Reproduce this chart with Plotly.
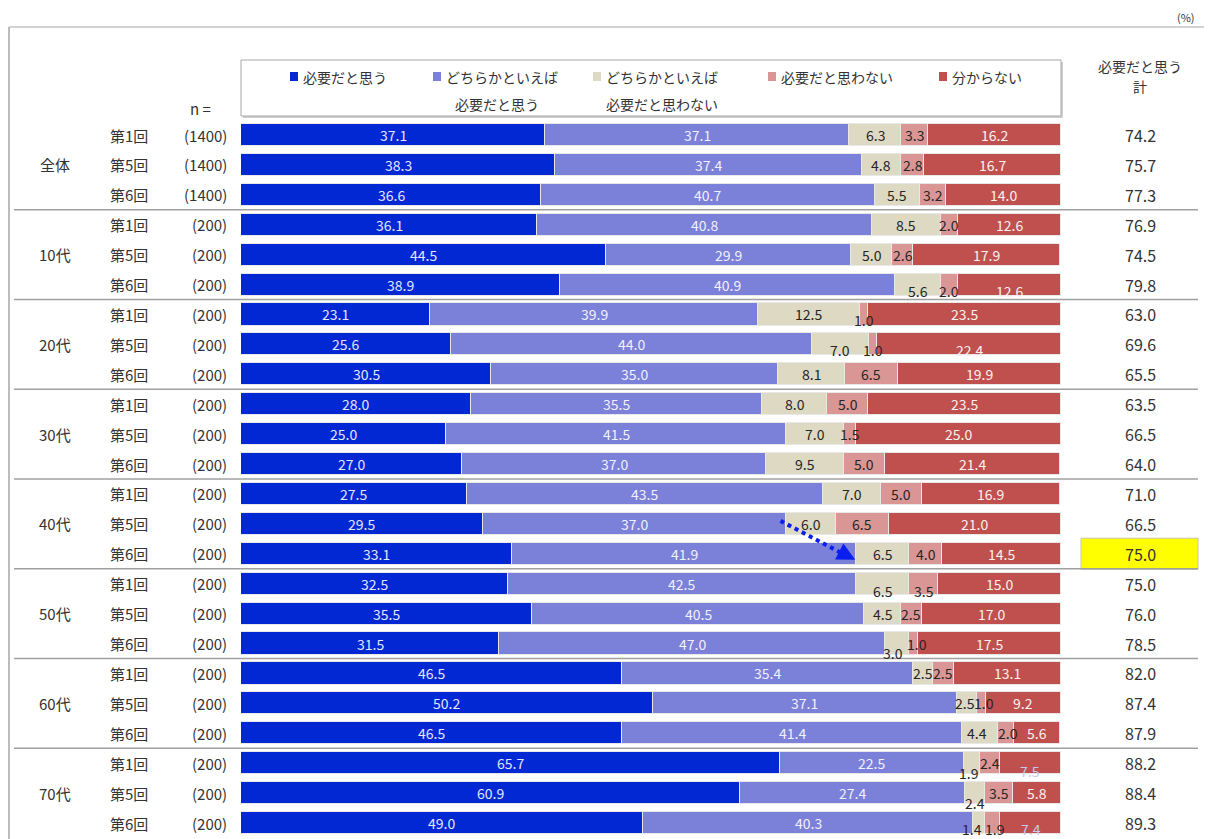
import plotly.graph_objects as go

groups = ["全体", "10代", "20代", "30代", "40代", "50代", "60代", "70代"]
rounds = ["第1回", "第5回", "第6回"]
n_values = ["(1400)", "(1400)", "(1400)"] + ["(200)"] * 21

series_names = ["必要だと思う", "どちらかといえば必要だと思う", "どちらかといえば必要だと思わない",
                "必要だと思わない", "分からない"]

need = [37.1, 38.3, 36.6, 36.1, 44.5, 38.9, 23.1, 25.6, 30.5, 28.0, 25.0, 27.0,
        27.5, 29.5, 33.1, 32.5, 35.5, 31.5, 46.5, 50.2, 46.5, 65.7, 60.9, 49.0]
rather_need = [37.1, 37.4, 40.7, 40.8, 29.9, 40.9, 39.9, 44.0, 35.0, 35.5, 41.5, 37.0,
               43.5, 37.0, 41.9, 42.5, 40.5, 47.0, 35.4, 37.1, 41.4, 22.5, 27.4, 40.3]
rather_not = [6.3, 4.8, 5.5, 8.5, 5.0, 5.6, 12.5, 7.0, 8.1, 8.0, 7.0, 9.5,
              7.0, 6.0, 6.5, 6.5, 4.5, 3.0, 2.5, 2.5, 4.4, 1.9, 2.4, 1.4]
not_need = [3.3, 2.8, 3.2, 2.0, 2.6, 2.0, 1.0, 1.0, 6.5, 5.0, 1.5, 5.0,
            5.0, 6.5, 4.0, 3.5, 2.5, 1.0, 2.5, 1.0, 2.0, 2.4, 3.5, 1.9]
unknown = [16.2, 16.7, 14.0, 12.6, 17.9, 12.6, 23.5, 22.4, 19.9, 23.5, 25.0, 21.4,
           16.9, 21.0, 14.5, 15.0, 17.0, 17.5, 13.1, 9.2, 5.6, 7.5, 5.8, 7.4]
total_need = [74.2, 75.7, 77.3, 76.9, 74.5, 79.8, 63.0, 69.6, 65.5, 63.5, 66.5, 64.0,
              71.0, 66.5, 75.0, 75.0, 76.0, 78.5, 82.0, 87.4, 87.9, 88.2, 88.4, 89.3]
highlight_row = 14

colors = ["#0228D4", "#7B80D8", "#DDD9C3", "#DA9694", "#C0504D"]
text_colors = ["#E4E6FF", "#F0F0FF", "#262626", "#262626", "#F8F0F0"]

# label nudges (row, series) -> (dx in %, dy in rows), mimicking the reference's placement
label_nudge = {
    (5, 2): (0, 0.2), (5, 3): (0, 0.2), (5, 4): (0, 0.2),
    (6, 3): (0, 0.2), (7, 2): (0, 0.2), (7, 3): (0, 0.2), (7, 4): (0, 0.2),
    (15, 2): (0, 0.25), (15, 3): (0, 0.25),
    (17, 2): (-0.5, 0.32), (17, 3): (0.4, 0),
    (19, 2): (-0.3, 0), (19, 3): (0.3, 0),
    (20, 2): (-0.4, 0), (20, 3): (0.2, 0),
    (21, 2): (-0.4, 0.33), (21, 3): (0, 0), (21, 4): (0, 0.27),
    (22, 2): (0, 0.33),
    (23, 2): (-0.9, 0.2), (23, 3): (0.3, 0.2), (23, 4): (0, 0.2),
}
light_override = {(21, 4): "#C8C8F0", (23, 4): "#C8C8F0"}

OFF = 8  # page body margin in the browser
W, H = 1212, 839
X0, X1 = 241, 1061
ROW0, STEP = 135, 29.913
FONT = "Noto Sans CJK JP"


def px(x):
    return (x - OFF) / W


def py(y):
    return 1 - (y - OFF) / H


nrows = len(need)
ys = list(range(nrows))
all_series = [need, rather_need, rather_not, not_need, unknown]

fig = go.Figure()
for name, vals, c in zip(series_names, all_series, colors):
    fig.add_trace(go.Bar(
        y=ys, x=vals, orientation="h", name=name,
        marker=dict(color=c, line=dict(color="#E8E8E8", width=1)),
        width=0.74, showlegend=False, hovertemplate="%{x:.1f}<extra>" + name + "</extra>",
    ))

ytop = -(ROW0 - OFF) / STEP
ybot = (H - (ROW0 - OFF)) / STEP
fig.update_layout(
    width=W, height=H, margin=dict(l=0, r=0, t=0, b=0),
    barmode="stack", bargap=0,
    plot_bgcolor="white", paper_bgcolor="white",
    font=dict(family=FONT, color="#333333", size=14),
    xaxis=dict(domain=[px(X0), px(X1)], range=[0, 100], visible=False, fixedrange=True),
    yaxis=dict(domain=[0, 1], range=[ybot, ytop], visible=False, fixedrange=True),
)

shapes = []
annotations = []
frame_col = "#A6A6A6"
LEFT = 9
shapes.append(dict(type="line", xref="paper", yref="paper", x0=px(LEFT), x1=px(1206), y0=py(27), y1=py(27),
                   line=dict(color=frame_col, width=1)))
shapes.append(dict(type="line", xref="paper", yref="paper", x0=px(LEFT), x1=px(LEFT), y0=py(27), y1=0,
                   line=dict(color=frame_col, width=1.5)))
shapes.append(dict(type="line", xref="paper", yref="paper", x0=px(1206), x1=px(1206), y0=py(27), y1=0,
                   line=dict(color=frame_col, width=1)))
for g in range(1, len(groups)):
    yv = g * 3 - 0.5
    shapes.append(dict(type="line", xref="paper", yref="y", x0=px(14), x1=px(1198), y0=yv, y1=yv,
                       line=dict(color="#A0A0A0", width=1.5)))
shapes.append(dict(type="rect", xref="paper", yref="y", x0=px(1081), x1=px(1198),
                   y0=highlight_row - 0.52, y1=highlight_row + 0.52,
                   fillcolor="#FFFF00", line=dict(color="#C8C8A0", width=1), layer="below"))
shapes.append(dict(type="rect", xref="paper", yref="paper", x0=px(X0 + 2), x1=px(X1 + 2), y0=py(62), y1=py(118),
                   fillcolor="#D0D0D0", line=dict(width=0), layer="below"))
shapes.append(dict(type="rect", xref="paper", yref="paper", x0=px(X0), x1=px(X1), y0=py(60), y1=py(116),
                   fillcolor="white", line=dict(color="#A6A6A6", width=1), layer="below"))

legend_x = [294, 437, 597, 772, 943]
legend_first = ["必要だと思う", "どちらかといえば", "どちらかといえば", "必要だと思わない", "分からない"]
legend_second = [None, "必要だと思う", "必要だと思わない", None, None]
legend_second_x = [None, 497, 662, None, None]
for lx, t1, t2, t2x, c in zip(legend_x, legend_first, legend_second, legend_second_x, colors):
    shapes.append(dict(type="rect", xref="paper", yref="paper", x0=px(lx - 4), x1=px(lx + 4),
                       y0=py(72), y1=py(81), fillcolor=c, line=dict(width=0)))
    annotations.append(dict(xref="paper", yref="paper", x=px(lx + 7), y=py(77), text=t1, showarrow=False,
                            xanchor="left", yanchor="middle", font=dict(size=14, color="#333333")))
    if t2:
        annotations.append(dict(xref="paper", yref="paper", x=px(t2x), y=py(104), text=t2, showarrow=False,
                                xanchor="center", yanchor="middle", font=dict(size=14, color="#333333")))

annotations.append(dict(xref="paper", yref="paper", x=px(1140), y=py(66), text="必要だと思う", showarrow=False,
                        xanchor="center", yanchor="middle", font=dict(size=14, color="#333333")))
annotations.append(dict(xref="paper", yref="paper", x=px(1140), y=py(86), text="計", showarrow=False,
                        xanchor="center", yanchor="middle", font=dict(size=14, color="#333333")))
annotations.append(dict(xref="paper", yref="paper", x=px(1197), y=py(17), text="(%)", showarrow=False,
                        xanchor="right", yanchor="middle", font=dict(size=11, color="#333333")))
annotations.append(dict(xref="paper", yref="paper", x=px(200), y=py(108), text="n =", showarrow=False,
                        xanchor="center", yanchor="middle", font=dict(size=15, color="#333333")))

for i in range(nrows):
    g, r = divmod(i, 3)
    if r == 1:
        annotations.append(dict(xref="paper", yref="y", x=px(55), y=i, text=groups[g], showarrow=False,
                                xanchor="center", yanchor="middle", font=dict(size=15, color="#333333")))
    annotations.append(dict(xref="paper", yref="y", x=px(129), y=i, text=rounds[r], showarrow=False,
                            xanchor="center", yanchor="middle", font=dict(size=15, color="#333333")))
    annotations.append(dict(xref="paper", yref="y", x=px(229), y=i, text=n_values[i], showarrow=False,
                            xanchor="right", yanchor="middle", font=dict(size=15, color="#333333")))
    annotations.append(dict(xref="paper", yref="y", x=px(1140), y=i, text=f"{total_need[i]:.1f}", showarrow=False,
                            xanchor="center", yanchor="middle", font=dict(size=16, color="#333333")))
    left = 0.0
    for s, vals in enumerate(all_series):
        v = vals[i]
        dx, dy = label_nudge.get((i, s), (0, 0))
        col = light_override.get((i, s), text_colors[s])
        annotations.append(dict(xref="x", yref="y", x=left + v / 2 + dx, y=i + dy, text=f"{v:.1f}",
                                showarrow=False, xanchor="center", yanchor="middle",
                                font=dict(size=14, color=col)))
        left += v

x_start = need[13] + rather_need[13]
x_end = need[14] + rather_need[14]
shapes.append(dict(type="line", xref="x", yref="y", x0=x_start - 0.7, y0=12.9, x1=x_end - 1.6, y1=14.0,
                   line=dict(color="#0A1EF0", width=4, dash="dot")))
annotations.append(dict(xref="x", yref="y", axref="x", ayref="y", x=x_end - 0.1, y=14.2,
                        ax=x_end - 2.2, ay=13.9, text="", showarrow=True, arrowhead=2,
                        arrowsize=1.2, arrowwidth=3, arrowcolor="#0A1EF0"))

fig.update_layout(shapes=shapes, annotations=annotations)
fig.write_html("out.html")
